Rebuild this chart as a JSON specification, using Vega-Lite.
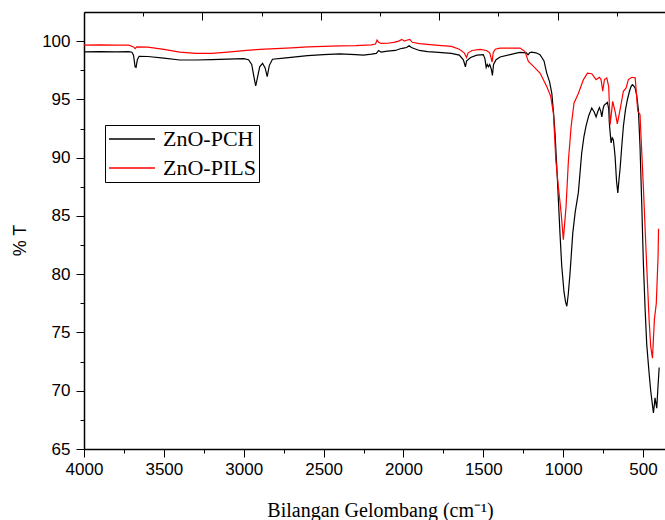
{
  "$schema": "https://vega.github.io/schema/vega-lite/v6.json",
  "autosize": "none",
  "padding": {"left": 84, "top": 12, "right": 0, "bottom": 71},
  "width": 581,
  "height": 437,
  "background": "white",
  "config": {"view": {"stroke": null}},
  "data": {"values": [
    {"s":"ZnO-PCH","wn":4000,"t":99.08},{"s":"ZnO-PCH","wn":3900,"t":99.1},{"s":"ZnO-PCH","wn":3800,"t":99.08},{"s":"ZnO-PCH","wn":3720,"t":99.1},{"s":"ZnO-PCH","wn":3700,"t":99.05},{"s":"ZnO-PCH","wn":3690,"t":98.8},{"s":"ZnO-PCH","wn":3680,"t":97.8},{"s":"ZnO-PCH","wn":3674,"t":97.75},{"s":"ZnO-PCH","wn":3666,"t":98.4},{"s":"ZnO-PCH","wn":3655,"t":98.7},{"s":"ZnO-PCH","wn":3600,"t":98.68},{"s":"ZnO-PCH","wn":3500,"t":98.55},{"s":"ZnO-PCH","wn":3400,"t":98.38},{"s":"ZnO-PCH","wn":3300,"t":98.38},{"s":"ZnO-PCH","wn":3200,"t":98.42},{"s":"ZnO-PCH","wn":3100,"t":98.45},{"s":"ZnO-PCH","wn":3000,"t":98.5},{"s":"ZnO-PCH","wn":2970,"t":98.4},{"s":"ZnO-PCH","wn":2950,"t":98.0},{"s":"ZnO-PCH","wn":2937,"t":97.0},{"s":"ZnO-PCH","wn":2925,"t":96.15},{"s":"ZnO-PCH","wn":2915,"t":96.8},{"s":"ZnO-PCH","wn":2900,"t":97.8},{"s":"ZnO-PCH","wn":2882,"t":98.1},{"s":"ZnO-PCH","wn":2866,"t":97.7},{"s":"ZnO-PCH","wn":2853,"t":96.95},{"s":"ZnO-PCH","wn":2840,"t":97.9},{"s":"ZnO-PCH","wn":2820,"t":98.45},{"s":"ZnO-PCH","wn":2750,"t":98.55},{"s":"ZnO-PCH","wn":2600,"t":98.75},{"s":"ZnO-PCH","wn":2500,"t":98.85},{"s":"ZnO-PCH","wn":2400,"t":98.9},{"s":"ZnO-PCH","wn":2300,"t":98.85},{"s":"ZnO-PCH","wn":2250,"t":98.8},{"s":"ZnO-PCH","wn":2200,"t":98.88},{"s":"ZnO-PCH","wn":2170,"t":98.95},{"s":"ZnO-PCH","wn":2155,"t":99.2},{"s":"ZnO-PCH","wn":2140,"t":99.05},{"s":"ZnO-PCH","wn":2100,"t":99.15},{"s":"ZnO-PCH","wn":2050,"t":99.2},{"s":"ZnO-PCH","wn":2020,"t":99.35},{"s":"ZnO-PCH","wn":2000,"t":99.4},{"s":"ZnO-PCH","wn":1980,"t":99.45},{"s":"ZnO-PCH","wn":1965,"t":99.6},{"s":"ZnO-PCH","wn":1950,"t":99.45},{"s":"ZnO-PCH","wn":1930,"t":99.35},{"s":"ZnO-PCH","wn":1900,"t":99.2},{"s":"ZnO-PCH","wn":1850,"t":99.1},{"s":"ZnO-PCH","wn":1800,"t":99.05},{"s":"ZnO-PCH","wn":1700,"t":98.95},{"s":"ZnO-PCH","wn":1650,"t":98.8},{"s":"ZnO-PCH","wn":1625,"t":98.4},{"s":"ZnO-PCH","wn":1612,"t":97.8},{"s":"ZnO-PCH","wn":1605,"t":98.3},{"s":"ZnO-PCH","wn":1580,"t":98.6},{"s":"ZnO-PCH","wn":1540,"t":98.8},{"s":"ZnO-PCH","wn":1500,"t":98.85},{"s":"ZnO-PCH","wn":1490,"t":98.5},{"s":"ZnO-PCH","wn":1482,"t":97.75},{"s":"ZnO-PCH","wn":1475,"t":98.0},{"s":"ZnO-PCH","wn":1468,"t":97.8},{"s":"ZnO-PCH","wn":1460,"t":98.0},{"s":"ZnO-PCH","wn":1450,"t":97.6},{"s":"ZnO-PCH","wn":1443,"t":97.05},{"s":"ZnO-PCH","wn":1436,"t":98.0},{"s":"ZnO-PCH","wn":1420,"t":98.4},{"s":"ZnO-PCH","wn":1395,"t":98.64},{"s":"ZnO-PCH","wn":1300,"t":98.95},{"s":"ZnO-PCH","wn":1270,"t":99.03},{"s":"ZnO-PCH","wn":1230,"t":99.0},{"s":"ZnO-PCH","wn":1220,"t":98.83},{"s":"ZnO-PCH","wn":1210,"t":99.0},{"s":"ZnO-PCH","wn":1197,"t":99.06},{"s":"ZnO-PCH","wn":1170,"t":99.0},{"s":"ZnO-PCH","wn":1145,"t":98.83},{"s":"ZnO-PCH","wn":1120,"t":98.3},{"s":"ZnO-PCH","wn":1103,"t":97.26},{"s":"ZnO-PCH","wn":1085,"t":96.5},{"s":"ZnO-PCH","wn":1071,"t":95.5},{"s":"ZnO-PCH","wn":1060,"t":93.8},{"s":"ZnO-PCH","wn":1051,"t":92.1},{"s":"ZnO-PCH","wn":1040,"t":89.2},{"s":"ZnO-PCH","wn":1030,"t":86.4},{"s":"ZnO-PCH","wn":1020,"t":83.5},{"s":"ZnO-PCH","wn":1009,"t":80.7},{"s":"ZnO-PCH","wn":995,"t":78.5},{"s":"ZnO-PCH","wn":985,"t":77.6},{"s":"ZnO-PCH","wn":977,"t":77.25},{"s":"ZnO-PCH","wn":968,"t":78.3},{"s":"ZnO-PCH","wn":957,"t":80.1},{"s":"ZnO-PCH","wn":940,"t":83.5},{"s":"ZnO-PCH","wn":925,"t":85.3},{"s":"ZnO-PCH","wn":905,"t":87.0},{"s":"ZnO-PCH","wn":884,"t":90.4},{"s":"ZnO-PCH","wn":870,"t":91.8},{"s":"ZnO-PCH","wn":857,"t":92.7},{"s":"ZnO-PCH","wn":840,"t":93.6},{"s":"ZnO-PCH","wn":821,"t":94.26},{"s":"ZnO-PCH","wn":805,"t":93.9},{"s":"ZnO-PCH","wn":794,"t":93.5},{"s":"ZnO-PCH","wn":782,"t":94.0},{"s":"ZnO-PCH","wn":773,"t":94.3},{"s":"ZnO-PCH","wn":765,"t":94.0},{"s":"ZnO-PCH","wn":758,"t":93.5},{"s":"ZnO-PCH","wn":750,"t":94.2},{"s":"ZnO-PCH","wn":744,"t":94.5},{"s":"ZnO-PCH","wn":723,"t":94.74},{"s":"ZnO-PCH","wn":715,"t":94.2},{"s":"ZnO-PCH","wn":711,"t":92.97},{"s":"ZnO-PCH","wn":705,"t":92.0},{"s":"ZnO-PCH","wn":700,"t":91.26},{"s":"ZnO-PCH","wn":693,"t":91.7},{"s":"ZnO-PCH","wn":686,"t":91.54},{"s":"ZnO-PCH","wn":680,"t":90.8},{"s":"ZnO-PCH","wn":675,"t":90.1},{"s":"ZnO-PCH","wn":666,"t":88.0},{"s":"ZnO-PCH","wn":658,"t":86.97},{"s":"ZnO-PCH","wn":650,"t":88.2},{"s":"ZnO-PCH","wn":644,"t":89.0},{"s":"ZnO-PCH","wn":633,"t":91.0},{"s":"ZnO-PCH","wn":623,"t":92.7},{"s":"ZnO-PCH","wn":610,"t":94.1},{"s":"ZnO-PCH","wn":598,"t":94.97},{"s":"ZnO-PCH","wn":585,"t":95.7},{"s":"ZnO-PCH","wn":575,"t":96.1},{"s":"ZnO-PCH","wn":567,"t":96.26},{"s":"ZnO-PCH","wn":558,"t":96.15},{"s":"ZnO-PCH","wn":550,"t":95.98},{"s":"ZnO-PCH","wn":540,"t":95.4},{"s":"ZnO-PCH","wn":529,"t":94.1},{"s":"ZnO-PCH","wn":519,"t":91.0},{"s":"ZnO-PCH","wn":508,"t":86.0},{"s":"ZnO-PCH","wn":498,"t":81.0},{"s":"ZnO-PCH","wn":487,"t":77.0},{"s":"ZnO-PCH","wn":477,"t":74.0},{"s":"ZnO-PCH","wn":462,"t":71.5},{"s":"ZnO-PCH","wn":452,"t":70.0},{"s":"ZnO-PCH","wn":443,"t":69.0},{"s":"ZnO-PCH","wn":435,"t":68.1},{"s":"ZnO-PCH","wn":429,"t":68.8},{"s":"ZnO-PCH","wn":425,"t":69.4},{"s":"ZnO-PCH","wn":419,"t":68.9},{"s":"ZnO-PCH","wn":414,"t":68.5},{"s":"ZnO-PCH","wn":408,"t":70.0},{"s":"ZnO-PCH","wn":399,"t":72.0},
    {"s":"ZnO-PILS","wn":4000,"t":99.65},{"s":"ZnO-PILS","wn":3900,"t":99.68},{"s":"ZnO-PILS","wn":3800,"t":99.66},{"s":"ZnO-PILS","wn":3720,"t":99.65},{"s":"ZnO-PILS","wn":3690,"t":99.5},{"s":"ZnO-PILS","wn":3680,"t":99.35},{"s":"ZnO-PILS","wn":3670,"t":99.5},{"s":"ZnO-PILS","wn":3600,"t":99.48},{"s":"ZnO-PILS","wn":3500,"t":99.3},{"s":"ZnO-PILS","wn":3400,"t":99.05},{"s":"ZnO-PILS","wn":3300,"t":98.95},{"s":"ZnO-PILS","wn":3200,"t":98.95},{"s":"ZnO-PILS","wn":3100,"t":99.05},{"s":"ZnO-PILS","wn":3000,"t":99.18},{"s":"ZnO-PILS","wn":2900,"t":99.3},{"s":"ZnO-PILS","wn":2800,"t":99.35},{"s":"ZnO-PILS","wn":2700,"t":99.42},{"s":"ZnO-PILS","wn":2600,"t":99.5},{"s":"ZnO-PILS","wn":2500,"t":99.55},{"s":"ZnO-PILS","wn":2400,"t":99.6},{"s":"ZnO-PILS","wn":2300,"t":99.62},{"s":"ZnO-PILS","wn":2200,"t":99.68},{"s":"ZnO-PILS","wn":2175,"t":99.75},{"s":"ZnO-PILS","wn":2165,"t":100.1},{"s":"ZnO-PILS","wn":2155,"t":99.9},{"s":"ZnO-PILS","wn":2140,"t":99.8},{"s":"ZnO-PILS","wn":2100,"t":99.82},{"s":"ZnO-PILS","wn":2060,"t":99.9},{"s":"ZnO-PILS","wn":2030,"t":100.0},{"s":"ZnO-PILS","wn":2010,"t":100.15},{"s":"ZnO-PILS","wn":1995,"t":100.0},{"s":"ZnO-PILS","wn":1975,"t":100.1},{"s":"ZnO-PILS","wn":1960,"t":100.15},{"s":"ZnO-PILS","wn":1945,"t":99.9},{"s":"ZnO-PILS","wn":1900,"t":99.78},{"s":"ZnO-PILS","wn":1800,"t":99.65},{"s":"ZnO-PILS","wn":1700,"t":99.55},{"s":"ZnO-PILS","wn":1650,"t":99.3},{"s":"ZnO-PILS","wn":1620,"t":99.0},{"s":"ZnO-PILS","wn":1605,"t":98.6},{"s":"ZnO-PILS","wn":1595,"t":99.0},{"s":"ZnO-PILS","wn":1570,"t":99.2},{"s":"ZnO-PILS","wn":1520,"t":99.3},{"s":"ZnO-PILS","wn":1480,"t":99.2},{"s":"ZnO-PILS","wn":1460,"t":99.0},{"s":"ZnO-PILS","wn":1452,"t":98.6},{"s":"ZnO-PILS","wn":1445,"t":98.2},{"s":"ZnO-PILS","wn":1438,"t":99.0},{"s":"ZnO-PILS","wn":1425,"t":99.3},{"s":"ZnO-PILS","wn":1395,"t":99.4},{"s":"ZnO-PILS","wn":1270,"t":99.4},{"s":"ZnO-PILS","wn":1239,"t":99.1},{"s":"ZnO-PILS","wn":1218,"t":98.26},{"s":"ZnO-PILS","wn":1186,"t":97.83},{"s":"ZnO-PILS","wn":1145,"t":97.26},{"s":"ZnO-PILS","wn":1103,"t":96.1},{"s":"ZnO-PILS","wn":1078,"t":95.26},{"s":"ZnO-PILS","wn":1061,"t":93.8},{"s":"ZnO-PILS","wn":1046,"t":89.8},{"s":"ZnO-PILS","wn":1030,"t":87.5},{"s":"ZnO-PILS","wn":1013,"t":85.3},{"s":"ZnO-PILS","wn":999,"t":82.97},{"s":"ZnO-PILS","wn":982,"t":85.8},{"s":"ZnO-PILS","wn":967,"t":89.8},{"s":"ZnO-PILS","wn":950,"t":92.7},{"s":"ZnO-PILS","wn":932,"t":94.7},{"s":"ZnO-PILS","wn":905,"t":95.5},{"s":"ZnO-PILS","wn":873,"t":96.7},{"s":"ZnO-PILS","wn":848,"t":97.26},{"s":"ZnO-PILS","wn":821,"t":97.2},{"s":"ZnO-PILS","wn":794,"t":96.7},{"s":"ZnO-PILS","wn":773,"t":96.9},{"s":"ZnO-PILS","wn":763,"t":96.7},{"s":"ZnO-PILS","wn":752,"t":95.7},{"s":"ZnO-PILS","wn":742,"t":96.7},{"s":"ZnO-PILS","wn":727,"t":96.84},{"s":"ZnO-PILS","wn":715,"t":96.1},{"s":"ZnO-PILS","wn":706,"t":92.83},{"s":"ZnO-PILS","wn":690,"t":94.83},{"s":"ZnO-PILS","wn":675,"t":93.97},{"s":"ZnO-PILS","wn":661,"t":92.9},{"s":"ZnO-PILS","wn":644,"t":94.1},{"s":"ZnO-PILS","wn":623,"t":95.7},{"s":"ZnO-PILS","wn":606,"t":95.98},{"s":"ZnO-PILS","wn":592,"t":96.7},{"s":"ZnO-PILS","wn":570,"t":96.9},{"s":"ZnO-PILS","wn":549,"t":96.85},{"s":"ZnO-PILS","wn":533,"t":94.0},{"s":"ZnO-PILS","wn":519,"t":93.7},{"s":"ZnO-PILS","wn":498,"t":87.5},{"s":"ZnO-PILS","wn":477,"t":80.7},{"s":"ZnO-PILS","wn":462,"t":76.1},{"s":"ZnO-PILS","wn":452,"t":73.8},{"s":"ZnO-PILS","wn":441,"t":72.8},{"s":"ZnO-PILS","wn":429,"t":76.1},{"s":"ZnO-PILS","wn":417,"t":77.5},{"s":"ZnO-PILS","wn":406,"t":81.5},{"s":"ZnO-PILS","wn":403,"t":83.9}
  ]},
  "resolve": {"scale": {"x": "shared", "y": "shared"}, "axis": {"x": "independent", "y": "independent"}},
  "layer": [
    {
      "mark": {"type": "line", "strokeWidth": 1.2},
      "encoding": {
        "x": {"field": "wn", "type": "quantitative",
          "scale": {"domain": [362.5, 4000], "reverse": true, "nice": false, "zero": false},
          "axis": {"orient": "bottom", "values": [4000, 3750, 3500, 3250, 3000, 2750, 2500, 2250, 2000, 1750, 1500, 1250, 1000, 750, 500],
            "tickSize": {"condition": {"test": "datum.value % 500 === 0", "value": 8}, "value": 4},
            "labelExpr": "datum.value % 500 === 0 ? datum.value : ''",
            "tickWidth": 1, "tickColor": "black", "domainColor": "black", "domainWidth": 1.5, "grid": false, "labelFont": "Liberation Sans", "labelFontSize": 17, "labelColor": "black", "labelPadding": 4, "labelFlush": false, "labelOverlap": false, "title": "Bilangan Gelombang (cm⁻¹)", "titleFont": "Liberation Serif", "titleFontSize": 20, "titleFontWeight": "normal", "titleColor": "black", "titleX": 296, "titleY": 67, "titleBaseline": "alphabetic", "titleAlign": "center"}},
        "y": {"field": "t", "type": "quantitative",
          "scale": {"domain": [65, 102.5], "nice": false, "zero": false},
          "axis": {"orient": "left", "values": [65, 67.5, 70, 72.5, 75, 77.5, 80, 82.5, 85, 87.5, 90, 92.5, 95, 97.5, 100],
            "tickSize": {"condition": {"test": "datum.value % 5 === 0", "value": 8}, "value": 4},
            "labelExpr": "datum.value % 5 === 0 ? datum.value : ''",
            "tickWidth": 1, "tickColor": "black", "domainColor": "black", "domainWidth": 1.5, "grid": false, "labelFont": "Liberation Sans", "labelFontSize": 17, "labelColor": "black", "labelPadding": 6, "labelFlush": false, "labelOverlap": false, "title": "% T", "titleFont": "Liberation Sans", "titleFontSize": 18, "titleFontWeight": "normal", "titleColor": "black", "titleAngle": 270, "titleX": -64, "titleY": 228, "titleBaseline": "middle", "titleAlign": "center"}},
        "color": {"field": "s", "type": "nominal",
          "scale": {"domain": ["ZnO-PCH", "ZnO-PILS"], "range": ["#000000", "#ff0000"]},
          "legend": {"orient": "none", "legendX": 21, "legendY": 113, "title": null, "strokeColor": "black", "padding": 3, "symbolType": "stroke", "symbolSize": 2116, "symbolStrokeWidth": 1.5, "clipHeight": 22, "labelFont": "Liberation Serif", "labelFontSize": 22, "labelColor": "black", "labelOffset": 7, "rowPadding": 7}}
      }
    },
    {
      "mark": {"type": "line", "strokeOpacity": 0},
      "encoding": {
        "x": {"field": "wn", "type": "quantitative",
          "axis": {"orient": "top", "values": [4000, 3629.3, 3258.6, 2887.9, 2517.2, 2146.5, 1775.8, 1405.1, 1034.4, 663.7],
            "tickSize": {"condition": {"test": "indexof([4000, 3258.6, 2517.2, 1775.8, 1034.4], datum.value) >= 0", "value": -8}, "value": -4},
            "tickWidth": 1, "tickColor": "black", "domainColor": "black", "domainWidth": 1.5, "labels": false, "grid": false, "title": null}},
        "y": {"field": "t", "type": "quantitative", "axis": null},
        "detail": {"field": "s"}
      }
    }
  ]
}
